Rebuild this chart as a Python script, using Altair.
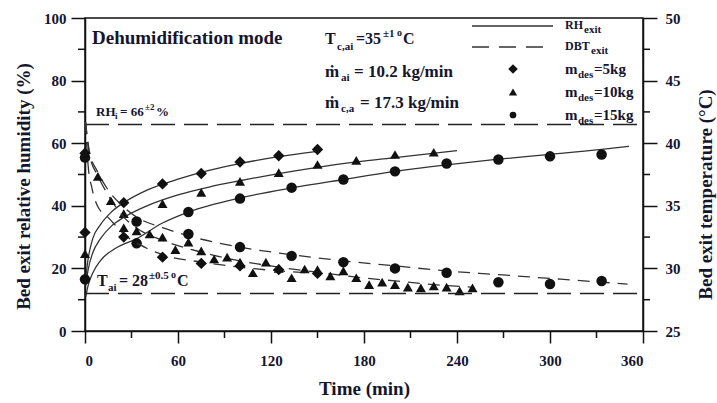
import altair as alt
import pandas as pd

# ---------------- data ----------------
time_5 = [0, 25, 50, 75, 100, 125, 150]
rh_5 = [31.5, 41, 47, 50.3, 54, 56, 58]
dbt_5 = [39.2, 32.5, 30.9, 30.4, 30.2, 29.9, 29.6]

time_10 = [0, 25, 50, 75, 100, 125, 150, 175, 200, 225]
rh_10 = [24.7, 37.5, 40.7, 44.3, 47.8, 50.6, 53.2, 54.5, 56.4, 57.1]
time_10_dbt = [8.3, 16.7, 25, 33.3, 41.7, 50, 58.3, 66.7, 75, 83.3, 91.7, 100,
               108.3, 116.7, 125, 133.3, 141.7, 150, 158.3, 166.7, 175, 183.3,
               191.7, 200, 208.3, 216.7, 225, 233.3, 241.7, 250]
dbt_10 = [37.35, 35.4, 33.25, 33.0, 32.75, 32.5, 31.5, 32.1, 31.4, 30.75, 30.9, 30.5,
          29.65, 30.5, 30.0, 29.25, 29.95, 29.9, 29.4, 29.8, 29.25, 28.7,
          28.9, 28.7, 28.5, 28.45, 28.6, 28.5, 28.2, 28.45]

time_15 = [0, 33.3, 66.7, 100, 133.3, 166.7, 200, 233.3, 266.7, 300, 333.3]
rh_15 = [16.5, 28, 38, 42.3, 45.8, 48.4, 51, 53.5, 54.8, 55.8, 56.4]
dbt_15 = [38.85, 33.75, 32.75, 31.7, 31.0, 30.5, 30.0, 29.65, 28.9, 28.75, 29.0]

# fitted curves
fit_rh5_t = [0.5, 2, 5, 10, 17, 25, 40, 60, 80, 100, 125, 150]
fit_rh5_v = [17, 23, 29.5, 34, 38, 41, 45, 48.5, 51.3, 53.5, 55.7, 57.4]
fit_rh10_t = [0.5, 2, 5, 10, 17, 25, 40, 60, 80, 100, 125, 150, 175, 200, 240]
fit_rh10_v = [14.5, 19.5, 25, 29.5, 33.5, 36.3, 40, 43.5, 46, 48, 50.3, 52.3, 54, 55.4, 57.6]
fit_rh15_t = [0.5, 2, 5, 10, 20, 33.3, 50, 66.7, 100, 133.3, 166.7, 200, 233.3, 266.7, 300, 333.3, 351]
fit_rh15_v = [11, 14.5, 18.5, 22.5, 26.5, 29.5, 34.5, 38, 42.5, 45.7, 48.4, 51, 53.1, 54.9, 56.4, 58, 59]

fit_dbt5_t = [0.3, 2, 4.5, 8, 15.5, 25, 40, 50, 75, 100, 125, 150]
fit_dbt5_v = [41.7, 38.25, 36.4, 35.0, 34.0, 32.75, 31.6, 31.1, 30.5, 30.1, 29.8, 29.6]
fit_dbt10_t = [0.3, 3, 8.3, 16.7, 25, 33, 50, 75, 100, 125, 150, 175, 200, 225, 250]
fit_dbt10_v = [41.7, 39.0, 37.4, 35.5, 34.1, 33.25, 32.25, 31.3, 30.6, 30.1, 29.7, 29.3, 29.0, 28.7, 28.5]
fit_dbt15_t = [0.3, 3, 8, 15, 25, 33.3, 50, 66.7, 100, 133, 167, 200, 233, 267, 300, 350]
fit_dbt15_v = [41.7, 39.25, 37.75, 36.25, 34.9, 34.1, 33.25, 32.6, 31.7, 31.1, 30.6, 30.2, 29.8, 29.5, 29.2, 28.75]

rh_inlet = 66
t_inlet = 28

x_ticks = [0, 60, 120, 180, 240, 300, 360]
x_minor = [30, 90, 150, 210, 270, 330]
rh_ticks = [0, 20, 40, 60, 80, 100]
rh_minor = [10, 30, 50, 70, 90]
t_ticks = [25, 30, 35, 40, 45, 50]
t_minor = [27.5, 32.5, 37.5, 42.5, 47.5]

# ---------------- styling ----------------
FONT = "Liberation Serif"
INK = "#15152e"
LINE = "#333333"
OX, OY = 85, 18          # plot origin in page pixels
W, H = 558, 313

def df(t, v):
    return pd.DataFrame({"t": t, "v": v})

X = alt.X("t:Q", scale=alt.Scale(domain=[0, 360], nice=False, zero=False),
          axis=alt.Axis(values=x_ticks, tickSize=12, tickWidth=1.5, domainWidth=1.5,
                        domainColor="#111", tickColor="#111", grid=False,
                        labelFont=FONT, labelFontSize=15, labelFontWeight="bold",
                        labelColor=INK, labelPadding=10,
                        title="Time (min)", titleFont=FONT, titleFontSize=19,
                        titleFontWeight="bold", titleColor=INK,
                        titleBaseline="alphabetic", titleY=63))

Y_RH = alt.Y("v:Q", scale=alt.Scale(domain=[0, 100], nice=False, zero=False),
             axis=alt.Axis(orient="left", values=rh_ticks, tickSize=14, tickWidth=1.5,
                           domainWidth=1.5, domainColor="#111", tickColor="#111", grid=False,
                           labelFont=FONT, labelFontSize=15, labelFontWeight="bold",
                           labelColor=INK, labelPadding=5,
                           title="Bed exit relative humidity (%)", titleFont=FONT,
                           titleFontSize=19, titleFontWeight="bold", titleColor=INK,
                           titleAngle=270, titleX=-62, titleY=168,
                           titleAlign="center", titleBaseline="middle"))

Y_T = alt.Y("v:Q", scale=alt.Scale(domain=[25, 50], nice=False, zero=False),
            axis=alt.Axis(orient="right", values=t_ticks, tickSize=14, tickWidth=1.5,
                          domainWidth=1.5, domainColor="#111", tickColor="#111", grid=False,
                          labelFont=FONT, labelFontSize=15, labelFontWeight="bold",
                          labelColor=INK, labelPadding=8,
                          title="Bed exit  temperature (°C)", titleFont=FONT,
                          titleFontSize=19, titleFontWeight="bold", titleColor=INK,
                          titleAngle=270, titleX=62, titleY=176,
                          titleAlign="center", titleBaseline="middle"))

dummy = alt.Data(values=[{"a": 1}])

def txt(s, x, y, size, weight="bold"):
    return alt.Chart(dummy).mark_text(
        text=s, font=FONT, fontSize=size, fontWeight=weight, align="left",
        baseline="alphabetic", color=INK
    ).encode(x=alt.value(x - OX), y=alt.value(y - OY))

def sym(shape, x, y, size):
    return alt.Chart(dummy).mark_point(shape=shape, filled=True, color="#111",
                                       opacity=1, size=size).encode(
        x=alt.value(x - OX), y=alt.value(y - OY))

def seg(x1, x2, y, dash=None):
    kw = dict(color=LINE, strokeWidth=1.3)
    if dash:
        kw["strokeDash"] = dash
    return alt.Chart(dummy).mark_rule(**kw).encode(
        x=alt.value(x1 - OX), x2=alt.value(x2 - OX), y=alt.value(y - OY))

SHAPES = {"5": ("diamond", 130), "10": ("triangle-up", 100), "15": ("circle", 110)}

def points(t, v, key, Y):
    shp, size = SHAPES[key]
    return alt.Chart(df(t, v)).mark_point(shape=shp, filled=True, color="#111",
                                          opacity=1, size=size).encode(x=X, y=Y)

def fitline(t, v, Y, dash=None):
    kw = dict(color=LINE, strokeWidth=1.3, interpolate="monotone")
    if dash:
        kw["strokeDash"] = dash
    return alt.Chart(df(t, v)).mark_line(**kw).encode(x=X, y=Y)

# ---------------- RH group (left axis) ----------------
rh_layers = [
    fitline(fit_rh5_t, fit_rh5_v, Y_RH),
    fitline(fit_rh10_t, fit_rh10_v, Y_RH),
    fitline(fit_rh15_t, fit_rh15_v, Y_RH),
    points(time_5, rh_5, "5", Y_RH),
    points(time_10, rh_10, "10", Y_RH),
    points(time_15, rh_15, "15", Y_RH),
    alt.Chart(pd.DataFrame({"t": [0], "t2": [360], "v": [rh_inlet]})).mark_rule(
        color="#222", strokeWidth=1.5, strokeDash=[24, 9]).encode(x=X, x2="t2:Q", y=Y_RH),
    alt.Chart(pd.DataFrame({"t": x_minor})).mark_rule(color="#111", strokeWidth=1.5).encode(
        x=X, y=alt.value(H), y2=alt.value(H + 7)),
    alt.Chart(pd.DataFrame({"v": rh_minor})).mark_rule(color="#111", strokeWidth=1.5).encode(
        y=Y_RH, x=alt.value(0), x2=alt.value(-7)),
]

# annotations
texts = [
    txt("Dehumidification mode", 92, 44, 19),
    txt("T", 325, 44, 16), txt("c,ai", 337, 50, 11), txt("=35", 356, 44, 16),
    txt("±1", 383, 37, 11), txt("o", 397, 36, 10), txt("C", 403, 44, 16),
    txt("ṁ", 325, 77, 17), txt("ai", 341, 81, 11), txt("= 10.2 kg/min", 354, 77, 17),
    txt("ṁ", 325, 108, 17), txt("c,a", 341, 112, 11), txt("= 17.3 kg/min", 360, 108, 17),
    txt("RH", 96, 116, 13), txt("i", 115, 119, 9), txt("= 66", 120, 116, 13),
    txt("±2", 145, 110, 9), txt("%", 156, 116, 13),
    txt("T", 97, 286, 16), txt("ai", 108, 291, 11), txt("= 28", 119, 286, 16),
    txt("±0.5", 149, 279, 11), txt("o", 171, 278, 10), txt("C", 177, 286, 16),
    # legend
    seg(472, 553, 26), txt("RH", 565, 29, 12), txt("exit", 584, 33, 11),
    seg(472, 553, 47, [17, 10]), txt("DBT", 565, 50, 12), txt("exit", 591, 54, 11),
    sym("diamond", 513, 69, 90), txt("m", 565, 74, 15), txt("des", 578, 78, 11), txt("=5kg", 594, 74, 15),
    sym("triangle-up", 513, 92, 70), txt("m", 565, 97, 15), txt("des", 578, 101, 11), txt("=10kg", 594, 97, 15),
    sym("circle", 513, 115, 45), txt("m", 565, 120, 15), txt("des", 578, 124, 11), txt("=15kg", 594, 120, 15),
]

left = alt.layer(*rh_layers, *texts)

# ---------------- DBT group (right axis) ----------------
DASH = [12, 8]
dbt_layers = [
    fitline(fit_dbt5_t, fit_dbt5_v, Y_T, DASH),
    fitline(fit_dbt10_t, fit_dbt10_v, Y_T, DASH),
    fitline(fit_dbt15_t, fit_dbt15_v, Y_T, DASH),
    points(time_5, dbt_5, "5", Y_T),
    points(time_10_dbt, dbt_10, "10", Y_T),
    points(time_15, dbt_15, "15", Y_T),
    alt.Chart(pd.DataFrame({"t": [0], "t2": [360], "v": [t_inlet]})).mark_rule(
        color="#222", strokeWidth=1.5, strokeDash=[24, 9]).encode(x=X, x2="t2:Q", y=Y_T),
    alt.Chart(pd.DataFrame({"v": t_minor})).mark_rule(color="#111", strokeWidth=1.5).encode(
        y=Y_T, x=alt.value(W), x2=alt.value(W + 7)),
]
right = alt.layer(*dbt_layers)

chart = alt.layer(left, right).resolve_scale(y="independent").properties(
    width=W, height=H,
    autosize=alt.AutoSizeParams(type="none"),
    padding={"left": OX, "top": OY, "right": 717 - OX - W, "bottom": 403 - OY - H},
    background="white",
).configure_view(stroke="#111", strokeWidth=1.5)

chart.save("out.html", embed_options={"renderer": "svg", "actions": False})
